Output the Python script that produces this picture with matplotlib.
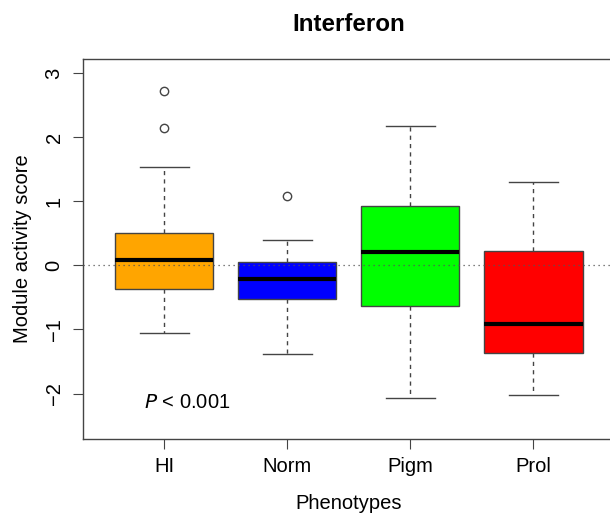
import matplotlib
matplotlib.use("Agg")
import matplotlib.pyplot as plt

plt.rcParams['font.family'] = ['Liberation Sans', 'DejaVu Sans']

# Phenotype groups and summary statistics of the module activity score
categories = ["HI", "Norm", "Pigm", "Prol"]
colors = ["#FFA500", "#0000FF", "#00FF00", "#FF0000"]
whisker_low = [-1.05, -1.39, -2.07, -2.02]
q1 = [-0.365, -0.52, -0.64, -1.37]
medians = [0.083, -0.22, 0.21, -0.92]
q3 = [0.50, 0.06, 0.92, 0.23]
whisker_high = [1.53, 0.40, 2.17, 1.30]
outliers = [[2.72, 2.145], [1.08], [], []]

yticks = [-2, -1, 0, 1, 2, 3]

edge = "#444444"
fs = 14.5

fig = plt.figure(figsize=(6.1, 5.19), dpi=100)
ax = fig.add_axes([0.136, 0.1541, 0.8714, 0.7322])

stats = []
for i, name in enumerate(categories):
    stats.append(dict(label=name, whislo=whisker_low[i], q1=q1[i], med=medians[i],
                      q3=q3[i], whishi=whisker_high[i], fliers=outliers[i]))

bp = ax.bxp(stats, positions=range(1, len(categories) + 1), widths=0.8,
            patch_artist=True, showfliers=True,
            boxprops=dict(edgecolor=edge, linewidth=1.0),
            medianprops=dict(color="black", linewidth=3.0, solid_capstyle="butt"),
            whiskerprops=dict(color=edge, linewidth=1.0, linestyle=(0, (3, 3))),
            capprops=dict(color=edge, linewidth=1.0),
            capwidths=0.4,
            flierprops=dict(marker="o", markerfacecolor="none", markeredgecolor=edge,
                            markersize=6, markeredgewidth=1.0))
for patch, c in zip(bp["boxes"], colors):
    patch.set_facecolor(c)

ax.axhline(0, color="#555555", linestyle=(0, (1, 3)), linewidth=0.9, zorder=5)

ax.set_xlim(0.34, 4.66)
ax.set_ylim(-2.71, 3.22)
ax.set_yticks(yticks)
ax.set_yticklabels([str(v).replace("-", "\u2212") for v in yticks], rotation=90,
                   va="center", fontsize=fs)
ax.tick_params(axis="x", labelsize=fs, length=7, color=edge, pad=6)
ax.tick_params(axis="y", length=7, color=edge, pad=7)
for s in ax.spines.values():
    s.set_color(edge)
    s.set_linewidth(1.0)

ax.set_ylabel("Module activity score", fontsize=fs, labelpad=9)
ax.set_xlabel("Phenotypes", fontsize=fs, labelpad=13)
ax.set_title("Interferon", fontsize=17.4, fontweight="bold", pad=20)

ax.text(1.19, -2.14, r"$\it{P}$" + " < 0.001", fontsize=fs, ha="center", va="center")

fig.savefig("out.png", dpi=100)
